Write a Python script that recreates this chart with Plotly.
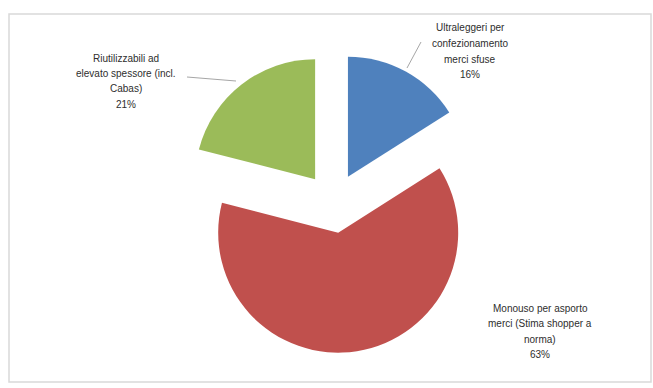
import plotly.graph_objects as go

# Shopper market split by type
categories = [
    "Ultraleggeri per confezionamento merci sfuse",
    "Monouso per asporto merci (Stima shopper a norma)",
    "Riutilizzabili ad elevato spessore (incl. Cabas)",
]
values = [16, 63, 21]
colors = ["#4F81BD", "#C0504D", "#9BBB59"]

# label lines as they wrap next to each slice (the percentage is appended)
label_lines = [
    ["Ultraleggeri per", "confezionamento", "merci sfuse"],
    ["Monouso per asporto", "merci (Stima shopper a", "norma)"],
    ["Riutilizzabili ad", "elevato spessore (incl.", "Cabas)"],
]

W, H = 653, 388


def px(x):
    return x / W


def py(y):
    return 1 - y / H


total = sum(values)
pcts = [f"{round(v / total * 100)}%" for v in values]

fig = go.Figure(
    go.Pie(
        labels=categories,
        values=values,
        sort=False,
        direction="clockwise",
        rotation=0,
        pull=[0.25, 0.25, 0.25],
        marker=dict(colors=colors, line=dict(color="white", width=0)),
        textinfo="none",
        hoverinfo="label+percent",
        showlegend=False,
        domain=dict(x=[px(183.5), px(483.5)], y=[py(353), py(53)]),
    )
)

annotations = []
# label block centres (x) and first-line y, in pixels
label_pos = [(470, 28), (540, 308), (126, 58)]
line_step = 15.5
for lines, pct, (cx, y0) in zip(label_lines, pcts, label_pos):
    for i, t in enumerate(lines + [pct]):
        annotations.append(
            dict(
                x=px(cx), y=py(y0 + i * line_step),
                xref="paper", yref="paper",
                text=t, showarrow=False,
                xanchor="center", yanchor="middle",
                font=dict(family="Liberation Sans", size=10, color="#2e2e2e"),
            )
        )

shapes = [
    # chart-area frame
    dict(type="rect", xref="paper", yref="paper",
         x0=px(9), x1=px(651), y0=py(382), y1=py(14),
         line=dict(color="#d9d9d9", width=1.5), layer="below"),
    # leader lines
    dict(type="line", xref="paper", yref="paper",
         x0=px(421), y0=py(42), x1=px(407), y1=py(68),
         line=dict(color="#a6a6a6", width=1)),
    dict(type="line", xref="paper", yref="paper",
         x0=px(187), y0=py(77), x1=px(236), y1=py(81),
         line=dict(color="#a6a6a6", width=1)),
]

fig.update_layout(
    width=W, height=H,
    margin=dict(l=0, r=0, t=0, b=0),
    paper_bgcolor="white",
    plot_bgcolor="white",
    annotations=annotations,
    shapes=shapes,
)

fig.write_html("out.html")
